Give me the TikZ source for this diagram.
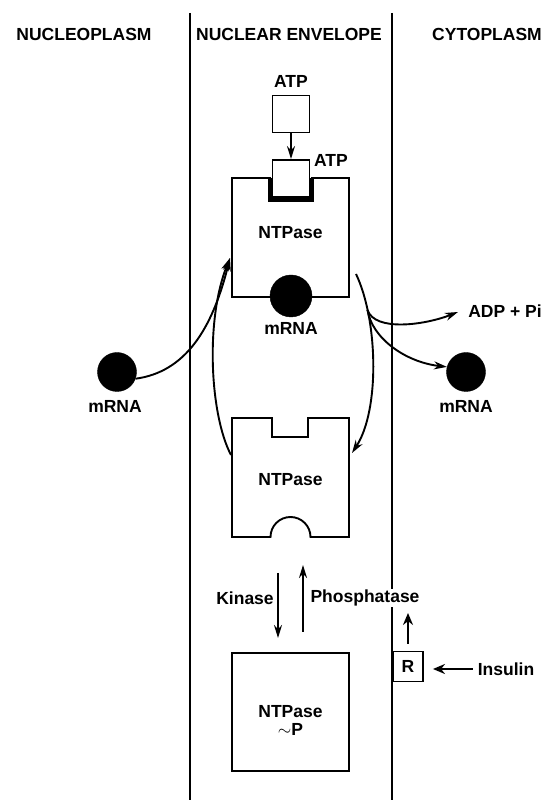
\documentclass[tikz,border=0pt]{standalone}
\usepackage{fontspec}
\setmainfont{Liberation Sans}
\usetikzlibrary{arrows.meta}

\begin{document}
\begin{tikzpicture}[x=1pt, y=1pt,
  labelnode/.style={font=\fontsize{17.5}{20}\selectfont\bfseries, inner sep=1pt },
  mrnanode/.style={shape=circle, draw=black, fill=black, inner sep=0pt },
  atpnode/.style={shape=rectangle, draw=black, line width=1.9, fill=white, minimum size=37pt, inner sep=0pt },
  arrowline/.style={line width=1.9, -{Stealth[length=13pt,width=8pt]} },
  thickarrow/.style={line width=2.8, -{Stealth[length=12pt,width=10pt]} },
]

%PAGE
\useasboundingbox (0,0) rectangle (548,800);

%MEMBRANE LINES
\coordinate (innertop) at (189.5,787);
\coordinate (innerbot) at (189.5,0);
\coordinate (outertop) at (391.5,787);
\coordinate (outerbot) at (391.5,0);
\draw[line width=2] (innertop) -- (innerbot);
\draw[line width=2] (outertop) -- (outerbot);

%HEADERS
\node[labelnode] (nucleo) at (84,766) {NUCLEOPLASM};
\node[labelnode] (envelope) at (289,766) {NUCLEAR ENVELOPE};
\node[labelnode] (cyto) at (487,766) {CYTOPLASM};

%TOP NTPASE WITH ATP
\draw[line width=1.9] (232,622) -- (270,622) -- (270,600) -- (312,600) -- (312,622) -- (349,622) -- (349,503) -- (232,503) -- cycle;
\draw[line width=4.5] (270,622) -- (270,600) -- (312,600) -- (312,622);
\node[labelnode] (ntpasetop) at (290.5,567) {NTPase};

\node[labelnode] (atplabel) at (291,719) {ATP};
\node[atpnode] (atpfree) at (291,686) {};
\node[atpnode] (atpbound) at (291,621.5) {};
\node[labelnode] (atpboundlabel) at (331,640) {ATP};
\draw[arrowline] (atpfree) -- (atpbound);

%MRNA
\node[mrnanode, minimum size=42pt] (mrnamid) at (291,504) {};
\node[labelnode] (mrnamidlabel) at (291,472) {mRNA};
\node[mrnanode, minimum size=39pt] (mrnaL) at (117,428) {};
\node[labelnode] (mrnaLlabel) at (115,394) {mRNA};
\node[mrnanode, minimum size=39pt] (mrnaR) at (466,428) {};
\node[labelnode] (mrnaRlabel) at (466,394) {mRNA};

%LOWER NTPASE
\draw[line width=1.9] (232,382) -- (272,382) -- (272,363) -- (308,363) -- (308,382) -- (349,382) -- (349,263) -- (310.5,263) arc[start angle=0, end angle=180, radius=20] -- (232,263) -- cycle;
\node[labelnode] (ntpaselow) at (290.5,320) {NTPase};

%CYCLE ARROWS
\coordinate (tipL) at (230,542);
\coordinate (lowL) at (231,345);
\coordinate (topR) at (356,526);
\coordinate (lowR) at (352,347);
\coordinate (branch) at (367.5,490);
\coordinate (adptip) at (458,488);

\draw[arrowline] (lowL) .. controls (210,385) and (205,480) .. (tipL);
\draw[arrowline] (mrnaL.-20) .. controls (185,428) and (212,470) .. (tipL);
\draw[arrowline] (topR) .. controls (378,480) and (380,390) .. (lowR);
\draw[arrowline] (branch) .. controls (375,468) and (425,475) .. (adptip);
\draw[arrowline] (branch) .. controls (372,462) and (405,438) .. (mrnaR.165);
\node[labelnode] (adp) at (505,489) {ADP + Pi};

%KINASE / PHOSPHATASE
\coordinate (kinasetop) at (278,227);
\coordinate (kinasebot) at (278,162);
\coordinate (phosbot) at (303,168);
\coordinate (phostop) at (303,235);
\draw[arrowline] (kinasetop) -- (kinasebot);
\draw[arrowline] (phosbot) -- (phostop);
\node[labelnode] (kinase) at (245,202) {Kinase};
\node[labelnode, fill=white] (phosphatase) at (365,202) {Phosphatase};

%PHOSPHORYLATED NTPASE
\draw[line width=1.9] (232,147) rectangle (349,29);
\node[labelnode, align=center] (ntpasep) at (290.5,80) {NTPase\\[-2pt]$\sim$P};

%INSULIN RECEPTOR
\node[labelnode, draw, line width=1.9, minimum size=30pt, inner sep=0pt] (receptor) at (408,133.5) {R};
\coordinate (receptorup) at (408,187);
\draw[thickarrow] ([yshift=7pt]receptor.north) -- (receptorup);
\node[labelnode] (insulin) at (506,131) {Insulin};
\draw[thickarrow, shorten <=4pt, shorten >=9pt] (insulin.west) -- (receptor.east |- insulin.west);

\end{tikzpicture}
\end{document}
